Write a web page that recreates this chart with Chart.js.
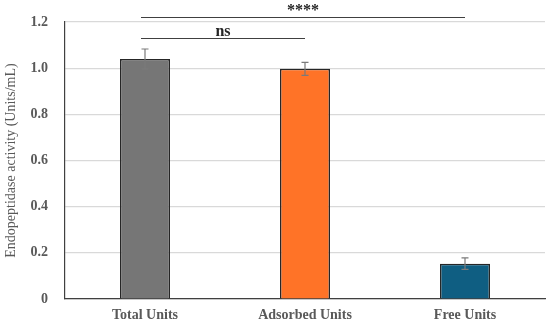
<!DOCTYPE html>
<html>
<head>
<meta charset="utf-8">
<script src="https://cdn.jsdelivr.net/npm/chart.js@4/dist/chart.umd.min.js"></script>
<style>
  html, body { margin: 0; padding: 0; background: #fff; }
  #wrap { width: 550px; height: 328px; }
</style>
</head>
<body>
<div id="wrap"><canvas id="myChart" width="550" height="328"></canvas></div>
<script>
const categories = ["Total Units", "Adsorbed Units", "Free Units"];
const activity = [1.04, 0.997, 0.153];
const errors = [0.043, 0.028, 0.025];
const colors = ["#767676", "#FF7327", "#0F5E82"];
const yTicks = [0, 0.2, 0.4, 0.6, 0.8, 1.0, 1.2];
// significance brackets: from category, to category, level on y, label
const sigFrom = [0, 0];
const sigTo = [2, 1];
const sigLevel = [1.222, 1.13];
const sigLabel = ["****", "ns"];

const serif = "'Liberation Serif', 'DejaVu Serif', serif";

const extras = {
    id: "extras",
    afterDatasetsDraw(chart) {
        const ctx = chart.ctx;
        const x = chart.scales.x;
        const y = chart.scales.y;
        ctx.save();
        // error bars
        ctx.strokeStyle = "#7a7a7a";
        ctx.lineWidth = 1.2;
        activity.forEach((v, i) => {
            const px = x.getPixelForValue(i);
            const top = y.getPixelForValue(v + errors[i]);
            const bot = y.getPixelForValue(v - errors[i]);
            ctx.beginPath();
            ctx.moveTo(px, top); ctx.lineTo(px, bot);
            ctx.moveTo(px - 3.5, top); ctx.lineTo(px + 3.5, top);
            ctx.moveTo(px - 3.5, bot); ctx.lineTo(px + 3.5, bot);
            ctx.stroke();
        });
        // significance lines
        ctx.strokeStyle = "#404040";
        ctx.lineWidth = 1.2;
        ctx.fillStyle = "#262626";
        ctx.textAlign = "center";
        ctx.textBaseline = "alphabetic";
        sigLabel.forEach((lab, i) => {
            const x1 = x.getPixelForValue(sigFrom[i]) - 4;
            const x2 = x.getPixelForValue(sigTo[i]);
            const py = Math.round(y.getPixelForValue(sigLevel[i])) + 0.5;
            ctx.beginPath();
            ctx.moveTo(x1, py); ctx.lineTo(x2, py);
            ctx.stroke();
            ctx.font = "bold 16px " + serif;
            ctx.fillText(lab, (x1 + x2) / 2, py - 3);
        });
        ctx.restore();
    }
};

new Chart(document.getElementById("myChart"), {
    type: "bar",
    data: {
        labels: categories,
        datasets: [{
            data: activity,
            backgroundColor: colors,
            borderColor: "#262626",
            borderWidth: 1.5,
            barPercentage: 0.3125,
            categoryPercentage: 1.0
        }]
    },
    options: {
        responsive: false,
        animation: false,
        layout: { padding: { top: 22, right: 5, left: 3, bottom: 0 } },
        plugins: { legend: { display: false }, tooltip: { enabled: false } },
        scales: {
            x: {
                afterFit: (s) => { s.height = 29; },
                grid: { display: false, drawTicks: false },
                border: { color: "#404040", width: 1.2 },
                ticks: {
                    color: "#595959",
                    padding: 8,
                    font: { family: serif, size: 14, weight: "bold" }
                }
            },
            y: {
                min: 0,
                max: 1.2,
                afterFit: (s) => { s.width = 62; s.paddingTop = 0; s.paddingBottom = 0; },
                afterBuildTicks: (s) => { s.ticks = yTicks.map(v => ({ value: v })); },
                grid: { color: "#d9d9d9", lineWidth: 1.2, drawTicks: false },
                border: { color: "#404040", width: 1.2 },
                ticks: {
                    color: "#595959",
                    padding: 17,
                    font: { family: serif, size: 14, weight: "bold" },
                    callback: (v) => v === 0 ? "0" : v.toFixed(1)
                },
                title: {
                    display: true,
                    text: "Endopeptidase activity (Units/mL)",
                    color: "#595959",
                    padding: { top: 0, bottom: 0 },
                    font: { family: serif, size: 14 }
                }
            }
        }
    },
    plugins: [extras]
});
</script>
</body>
</html>
